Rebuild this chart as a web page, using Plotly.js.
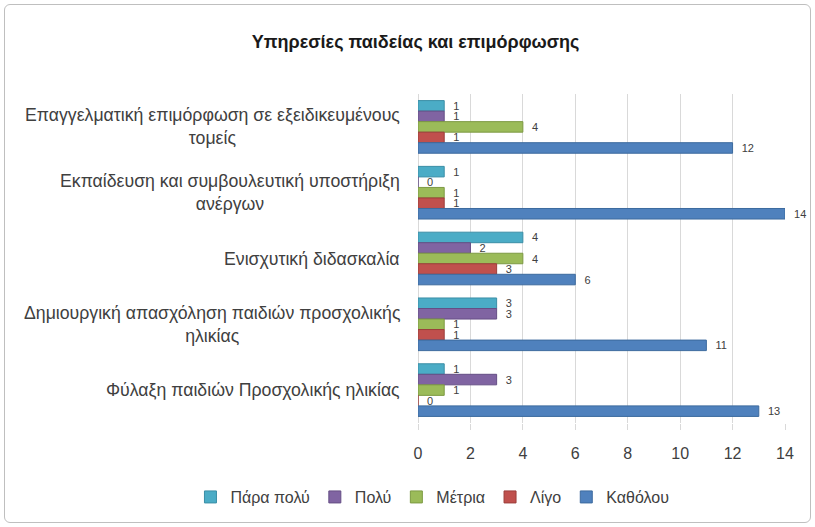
<!DOCTYPE html>
<html><head><meta charset="utf-8">
<script src="https://cdn.plot.ly/plotly-3.0.1.min.js"></script>
<style>html,body{margin:0;padding:0;background:#fff;}
#wrap{position:absolute;left:0;top:0;width:815px;height:527px;}
#frame{position:absolute;left:4px;top:4px;width:805px;height:517px;border:1px solid #bfbfbf;border-radius:6px;pointer-events:none;}
</style></head>
<body><div id="wrap"><div id="chart" style="width:815px;height:527px;"></div><div id="frame"></div></div>
<script>
const categories = [
  "Επαγγελματική επιμόρφωση σε εξειδικευμένους<br>τομείς",
  "Εκπαίδευση και συμβουλευτική υποστήριξη<br>ανέργων",
  "Ενισχυτική διδασκαλία",
  "Δημιουργική απασχόληση παιδιών προσχολικής<br>ηλικίας",
  "Φύλαξη παιδιών Προσχολικής ηλικίας"
];
const seriesNames = ["Πάρα πολύ", "Πολύ", "Μέτρια", "Λίγο", "Καθόλου"];
const paraPoly = [1, 1, 4, 3, 1];
const poly     = [1, 0, 2, 3, 3];
const metria   = [4, 1, 4, 1, 1];
const ligo     = [1, 1, 3, 1, 0];
const katholou = [12, 14, 6, 11, 13];
const xTicks = [0, 2, 4, 6, 8, 10, 12, 14];

const FONT = "Liberation Sans, Arial, sans-serif";
const colors = ["#4BACC6", "#8064A2", "#9BBB59", "#C0504D", "#4F81BD"];
const lines  = ["#3a8ea6", "#654e85", "#7d9a43", "#9c3e3b", "#3c6a9e"];
const values = [paraPoly, poly, metria, ligo, katholou];

const traces = values.map((v, i) => ({
  type: "bar", orientation: "h",
  name: seriesNames[i], x: v, y: categories,
  marker: {color: colors[i], line: {color: lines[i], width: 1}},
  text: v.map(n => "\u00a0\u00a0" + n), textposition: "outside", cliponaxis: false,
  constraintext: "none",
  textfont: {family: FONT, size: 11, color: "#404040"}
}));

const annotations = categories.map(c => ({
  xref: "paper", yref: "y", x: 0, y: c, xanchor: "right", yanchor: "middle",
  xshift: -16, align: "center", showarrow: false, text: c,
  font: {family: FONT, size: 17.7, color: "#404040"}
}));

const layout = {
  width: 815, height: 527,
  margin: {l: 418, r: 30, t: 94, b: 104},
  paper_bgcolor: "#ffffff", plot_bgcolor: "#ffffff",
  font: {family: FONT, color: "#404040"},
  title: {text: "<b>Υπηρεσίες παιδείας και επιμόρφωσης</b>", x: 0.51, xanchor: "center",
          yref: "container", y: 0.92, yanchor: "middle",
          font: {size: 18, color: "#1a1a1a"}},
  barmode: "group", bargap: 0.2, bargroupgap: 0,
  xaxis: {range: [0, 14], tickvals: xTicks, showgrid: true, gridcolor: "#d9d9d9", gridwidth: 1,
          zeroline: true, zerolinecolor: "#d9d9d9", showline: false,
          ticks: "outside", ticklen: 6, tickcolor: "#d9d9d9", ticklabelstandoff: 10,
          tickfont: {size: 16, color: "#404040"}},
  yaxis: {autorange: "reversed", showgrid: false, zeroline: false, showline: false,
          ticks: "", showticklabels: false},
  annotations: annotations,
  legend: {orientation: "h", xref: "paper", yref: "paper", x: -0.62, xanchor: "left",
           y: -0.225, yanchor: "middle",
           font: {size: 16, color: "#404040"}, traceorder: "normal"},
  showlegend: true
};
Plotly.newPlot("chart", traces, layout, {displayModeBar: false, staticPlot: true});
</script></body></html>
